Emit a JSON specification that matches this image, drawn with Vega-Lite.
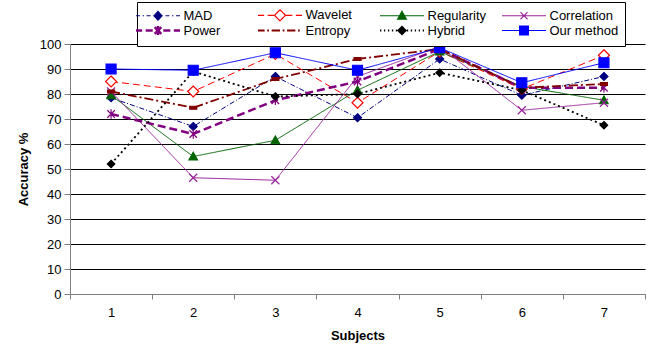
{
  "$schema": "https://vega.github.io/schema/vega-lite/v6.json",
  "width": 575,
  "height": 250,
  "autosize": {"type": "none"},
  "padding": {"left": 70, "top": 44, "right": 4, "bottom": 54},
  "data": {
    "values": [
      {"subject": 1, "series": "MAD", "acc": 78.5},
      {"subject": 2, "series": "MAD", "acc": 67},
      {"subject": 3, "series": "MAD", "acc": 87},
      {"subject": 4, "series": "MAD", "acc": 70.5},
      {"subject": 5, "series": "MAD", "acc": 94},
      {"subject": 6, "series": "MAD", "acc": 79.5},
      {"subject": 7, "series": "MAD", "acc": 87},
      {"subject": 1, "series": "Wavelet", "acc": 85},
      {"subject": 2, "series": "Wavelet", "acc": 81},
      {"subject": 3, "series": "Wavelet", "acc": 96},
      {"subject": 4, "series": "Wavelet", "acc": 76.5},
      {"subject": 5, "series": "Wavelet", "acc": 97},
      {"subject": 6, "series": "Wavelet", "acc": 82},
      {"subject": 7, "series": "Wavelet", "acc": 95.5},
      {"subject": 1, "series": "Regularity", "acc": 79.5},
      {"subject": 2, "series": "Regularity", "acc": 55},
      {"subject": 3, "series": "Regularity", "acc": 61.5},
      {"subject": 4, "series": "Regularity", "acc": 81.5},
      {"subject": 5, "series": "Regularity", "acc": 97},
      {"subject": 6, "series": "Regularity", "acc": 83},
      {"subject": 7, "series": "Regularity", "acc": 77.5},
      {"subject": 1, "series": "Correlation", "acc": 81},
      {"subject": 2, "series": "Correlation", "acc": 46.5},
      {"subject": 3, "series": "Correlation", "acc": 45.5},
      {"subject": 4, "series": "Correlation", "acc": 87},
      {"subject": 5, "series": "Correlation", "acc": 99},
      {"subject": 6, "series": "Correlation", "acc": 73.5},
      {"subject": 7, "series": "Correlation", "acc": 76.5},
      {"subject": 1, "series": "Power", "acc": 72},
      {"subject": 2, "series": "Power", "acc": 64},
      {"subject": 3, "series": "Power", "acc": 77.5},
      {"subject": 4, "series": "Power", "acc": 85},
      {"subject": 5, "series": "Power", "acc": 98},
      {"subject": 6, "series": "Power", "acc": 82.5},
      {"subject": 7, "series": "Power", "acc": 82.5},
      {"subject": 1, "series": "Entropy", "acc": 81},
      {"subject": 2, "series": "Entropy", "acc": 74.5},
      {"subject": 3, "series": "Entropy", "acc": 86},
      {"subject": 4, "series": "Entropy", "acc": 94},
      {"subject": 5, "series": "Entropy", "acc": 98},
      {"subject": 6, "series": "Entropy", "acc": 82.5},
      {"subject": 7, "series": "Entropy", "acc": 84},
      {"subject": 1, "series": "Hybrid", "acc": 52},
      {"subject": 2, "series": "Hybrid", "acc": 89},
      {"subject": 3, "series": "Hybrid", "acc": 79},
      {"subject": 4, "series": "Hybrid", "acc": 80},
      {"subject": 5, "series": "Hybrid", "acc": 88.5},
      {"subject": 6, "series": "Hybrid", "acc": 81.5},
      {"subject": 7, "series": "Hybrid", "acc": 67.5},
      {"subject": 1, "series": "Our method", "acc": 90},
      {"subject": 2, "series": "Our method", "acc": 89.5},
      {"subject": 3, "series": "Our method", "acc": 96.5},
      {"subject": 4, "series": "Our method", "acc": 89.5},
      {"subject": 5, "series": "Our method", "acc": 98.5},
      {"subject": 6, "series": "Our method", "acc": 84.5},
      {"subject": 7, "series": "Our method", "acc": 92.5}
    ]
  },
  "encoding": {
    "x": {
      "field": "subject",
      "type": "ordinal",
      "scale": {"type": "band", "paddingInner": 0, "paddingOuter": 0},
      "axis": {
        "title": "Subjects",
        "labelAngle": 0,
        "tickBand": "extent",
        "grid": false,
        "domainColor": "#808080",
        "tickColor": "#808080",
        "tickSize": 5,
        "labelPadding": 7,
        "titlePadding": 10
      }
    },
    "y": {
      "field": "acc",
      "type": "quantitative",
      "scale": {"domain": [0, 100], "nice": false},
      "axis": {
        "title": "Accuracy %",
        "values": [0, 10, 20, 30, 40, 50, 60, 70, 80, 90, 100],
        "grid": true,
        "gridColor": "#000000",
        "gridWidth": 1,
        "gridOpacity": 1,
        "domainColor": "#808080",
        "tickColor": "#808080",
        "tickSize": 6,
        "labelPadding": 3,
        "titlePadding": 9
      }
    }
  },
  "layer": [
    {
      "mark": {"type": "line", "strokeCap": "butt"},
      "encoding": {
        "color": {
          "field": "series",
          "type": "nominal",
          "sort": null,
          "scale": {
            "domain": ["MAD", "Wavelet", "Regularity", "Correlation", "Power", "Entropy", "Hybrid", "Our method"],
            "range": ["#000080", "#ff0000", "#006400", "#9a239a", "#800080", "#800000", "#000000", "#0000ff"]
          },
          "legend": {
            "title": null,
            "orient": "none",
            "direction": "horizontal",
            "legendX": 67,
            "legendY": -42,
            "columns": 4,
            "gridAlign": "all",
            "symbolSize": 1936,
            "symbolOffset": 8.5,
            "labelOffset": 19,
            "columnPadding": 1,
            "rowPadding": -9,
            "padding": 6,
            "strokeColor": "#000000",
            "fillColor": "#ffffff",
            "labelFont": "Liberation Sans",
            "labelFontSize": 13,
            "labelColor": "#000000",
            "labelLimit": 200,
            "encode": {
              "symbols": {
                "update": {
                  "shape": {"signal": "datum.value==='MAD' ? 'M-1,0H-0.82M-0.7,0H-0.64M-0.52,0H-0.34M-0.22,0H-0.18M0.18,0H0.22M0.34,0H0.52M0.64,0H0.7M0.82,0H1M0,-0.2L0.18,0L0,0.2L-0.18,0Z' : datum.value==='Wavelet' ? 'M-1,0H-0.72M-0.56,0H-0.28M0.28,0H0.56M0.72,0H1M0,-0.25L0.25,0L0,0.25L-0.25,0Z' : datum.value==='Regularity' ? 'M-1,0H1M0,-0.2L0.2,0.16L-0.2,0.16Z' : datum.value==='Correlation' ? 'M-1,0H1M-0.16,-0.16L0.16,0.16M-0.16,0.16L0.16,-0.16' : datum.value==='Power' ? 'M-1,0H-0.72M-0.56,0H-0.24M0.24,0H0.56M0.72,0H1M-0.15,-0.15L0.15,0.15M-0.15,0.15L0.15,-0.15M0,-0.2V0.2' : datum.value==='Entropy' ? 'M-1,0H-0.7M-0.58,0H-0.5M-0.38,0H0M0.12,0H0.2M0.32,0H0.7M0.82,0H0.9' : datum.value==='Hybrid' ? 'M-1,0H-0.94M-0.82,0H-0.76M-0.64,0H-0.58M-0.46,0H-0.4M-0.28,0H-0.22M0.22,0H0.28M0.4,0H0.46M0.58,0H0.64M0.76,0H0.82M0.94,0H1M0,-0.17L0.17,0L0,0.17L-0.17,0Z' : 'M-1,0H1M-0.2,-0.2H0.2V0.2H-0.2Z'"},
                  "fill": {"signal": "datum.value==='Wavelet' ? '#ffffff' : scale('color', datum.value)"},
                  "stroke": {"signal": "scale('color', datum.value)"},
                  "strokeWidth": {"signal": "datum.value==='Power' ? 2.5 : datum.value==='Entropy' ? 2 : datum.value==='Hybrid' ? 1.8 : 1.2"},
                  "strokeDash": {"value": [1, 0]},
                  "opacity": {"value": 1},
                  "fillOpacity": {"value": 1},
                  "strokeOpacity": {"value": 1}
                }
              }
            }
          }
        },
        "strokeDash": {
          "field": "series",
          "type": "nominal",
          "scale": {
            "domain": ["Our method", "Hybrid", "Entropy", "Power", "Correlation", "Regularity", "Wavelet", "MAD"],
            "range": [[1, 0], [2, 3], [9, 3, 2, 3], [8, 4], [1, 0], [1, 0], [7, 4], [5, 2, 1, 2]]
          },
          "legend": null
        },
        "strokeWidth": {
          "condition": [
            {"test": "datum.series==='Power'", "value": 2.5},
            {"test": "datum.series==='Entropy'", "value": 1.8},
            {"test": "datum.series==='Hybrid'", "value": 1.8}
          ],
          "value": 1
        }
      }
    },
    {
      "mark": {"type": "point", "size": 100, "strokeWidth": 1.2, "opacity": 1, "fillOpacity": 1, "strokeOpacity": 1},
      "encoding": {
        "shape": {
          "field": "series",
          "type": "nominal",
          "scale": {
            "domain": ["Our method", "Hybrid", "Entropy", "Power", "Correlation", "Regularity", "Wavelet", "MAD"],
            "range": [
              "M-1,-1H1V1H-1Z",
              "M0,-0.75L0.75,0L0,0.75L-0.75,0Z",
              "M-0.7,-0.3H0.7V0.3H-0.7Z",
              "M-0.75,-0.75L0.75,0.75M-0.75,0.75L0.75,-0.75M0,-0.95V0.95",
              "M-0.8,-0.8L0.8,0.8M-0.8,0.8L0.8,-0.8",
              "M0,-0.85L0.85,0.7L-0.85,0.7Z",
              "M0,-1.1L1.1,0L0,1.1L-1.1,0Z",
              "M0,-0.8L0.8,0L0,0.8L-0.8,0Z"
            ]
          },
          "legend": null
        },
        "stroke": {
          "field": "series",
          "type": "nominal",
          "scale": {
            "domain": ["Our method", "Hybrid", "Entropy", "Power", "Correlation", "Regularity", "Wavelet", "MAD"],
            "range": ["#0000ff", "#000000", "#800000", "#800080", "#9a239a", "#006400", "#ff0000", "#000080"]
          },
          "legend": null
        },
        "fill": {
          "field": "series",
          "type": "nominal",
          "scale": {
            "domain": ["Our method", "Hybrid", "Entropy", "Power", "Correlation", "Regularity", "Wavelet", "MAD"],
            "range": ["#0000ff", "#000000", "#800000", "#800080", "#9a239a", "#006400", "#ffffff", "#000080"]
          },
          "legend": null
        }
      }
    }
  ],
  "config": {
    "view": {"stroke": null},
    "font": "Liberation Sans",
    "axis": {
      "labelFont": "Liberation Sans",
      "labelFontSize": 13,
      "labelColor": "#000000",
      "titleFont": "Liberation Sans",
      "titleFontSize": 13,
      "titleFontWeight": "bold",
      "titleColor": "#000000"
    }
  }
}
